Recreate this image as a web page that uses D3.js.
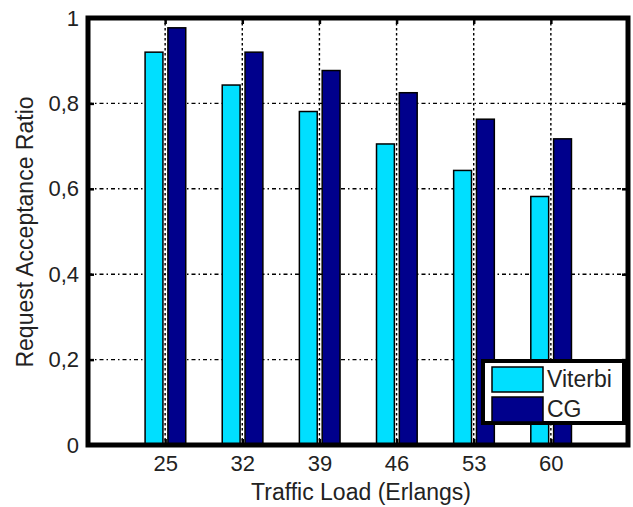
<!DOCTYPE html>
<html>
<head>
<meta charset="utf-8">
<script src="https://cdn.jsdelivr.net/npm/d3@7"></script>
<style>
  body { margin: 0; background: #fff; }
  text { font-family: "Liberation Sans", Arial, sans-serif; fill: #222; }
</style>
</head>
<body>
<div id="chart"></div>
<script>
// Chart data
const categories = [25, 32, 39, 46, 53, 60];
const viterbi = [0.92, 0.843, 0.781, 0.705, 0.643, 0.582];
const cg = [0.977, 0.92, 0.877, 0.825, 0.763, 0.717];
const seriesNames = ["Viterbi", "CG"];
const yTicks = [0, 0.2, 0.4, 0.6, 0.8, 1];
const yTickLabels = ["0", "0,2", "0,4", "0,6", "0,8", "1"];

const width = 633;
const height = 507;
const plot = { left: 88, right: 628, top: 18, bottom: 445 };
const colors = ["#00dfff", "#00008c"];

const svg = d3.select("#chart")
  .append("svg")
  .attr("width", width)
  .attr("height", height);

// x in data units, one empty step on each side like MATLAB
const x = d3.scaleLinear()
  .domain([18, 67])
  .range([plot.left, plot.right]);

const y = d3.scaleLinear()
  .domain([0, 1])
  .range([plot.bottom, plot.top]);

// grid (under the bars)
svg.append("g")
  .selectAll("line")
  .data(yTicks.slice(1, -1))
  .enter()
  .append("line")
  .attr("x1", plot.left)
  .attr("x2", plot.right)
  .attr("y1", d => y(d))
  .attr("y2", d => y(d))
  .attr("stroke", "#000")
  .attr("stroke-width", 1.4)
  .attr("stroke-dasharray", "4,3,1.5,3");

svg.append("g")
  .selectAll("line")
  .data(categories)
  .enter()
  .append("line")
  .attr("x1", d => x(d))
  .attr("x2", d => x(d))
  .attr("y1", plot.top)
  .attr("y2", plot.bottom)
  .attr("stroke", "#000")
  .attr("stroke-width", 1.4)
  .attr("stroke-dasharray", "2.5,2.5");

// bars: offsets in data units around each category
const offsets = [[-1.82, -0.2], [0.25, 1.87]];
[viterbi, cg].forEach((vals, s) => {
  svg.append("g")
    .selectAll("rect")
    .data(vals)
    .enter()
    .append("rect")
    .attr("x", (d, i) => x(categories[i] + offsets[s][0]))
    .attr("width", (d, i) => x(categories[i] + offsets[s][1]) - x(categories[i] + offsets[s][0]))
    .attr("y", d => y(d))
    .attr("height", d => y(0) - y(d))
    .attr("fill", colors[s])
    .attr("stroke", "#000")
    .attr("stroke-width", 1.5);
});

// axes
svg.append("g")
  .attr("transform", `translate(${plot.left},0)`)
  .call(d3.axisLeft(y).tickValues(yTicks).tickFormat((d, i) => yTickLabels[i]).tickSize(-6).tickPadding(9));

svg.append("g")
  .attr("transform", `translate(0,${plot.bottom})`)
  .call(d3.axisBottom(x).tickValues(categories).tickFormat(d3.format("d")).tickSize(-6).tickPadding(10));

svg.append("g")
  .attr("transform", `translate(0,${plot.top})`)
  .call(d3.axisTop(x).tickValues(categories).tickFormat("").tickSize(-6));

svg.append("g")
  .attr("transform", `translate(${plot.right},0)`)
  .call(d3.axisRight(y).tickValues(yTicks).tickFormat("").tickSize(-6));

svg.selectAll(".domain").remove();
svg.selectAll(".tick line").attr("stroke", "#000").attr("stroke-width", 2.5);
svg.selectAll(".tick text")
  .style("font-family", '"Liberation Sans", Arial, sans-serif')
  .style("font-size", "22px")
  .attr("fill", "#222");

// axes box
svg.append("rect")
  .attr("x", plot.left)
  .attr("y", plot.top)
  .attr("width", plot.right - plot.left)
  .attr("height", plot.bottom - plot.top)
  .attr("fill", "none")
  .attr("stroke", "#000")
  .attr("stroke-width", 5);

// axis titles
svg.append("text")
  .attr("x", 361)
  .attr("y", 500)
  .attr("text-anchor", "middle")
  .style("font-size", "23px")
  .text("Traffic Load (Erlangs)");

svg.append("text")
  .attr("transform", "translate(33,232) rotate(-90)")
  .attr("text-anchor", "middle")
  .style("font-size", "23px")
  .text("Request Acceptance Ratio");

// legend
const legend = svg.append("g");
legend.append("rect")
  .attr("x", 483)
  .attr("y", 361)
  .attr("width", 141)
  .attr("height", 62)
  .attr("fill", "#fff")
  .attr("stroke", "#000")
  .attr("stroke-width", 4);

seriesNames.forEach((name, i) => {
  legend.append("rect")
    .attr("x", 492)
    .attr("y", 367 + i * 30)
    .attr("width", 51)
    .attr("height", 25)
    .attr("fill", colors[i])
    .attr("stroke", "#000")
    .attr("stroke-width", 1.5);
  legend.append("text")
    .attr("x", 547)
    .attr("y", 387 + i * 30)
    .style("font-size", "23px")
    .text(name);
});
</script>
</body>
</html>
